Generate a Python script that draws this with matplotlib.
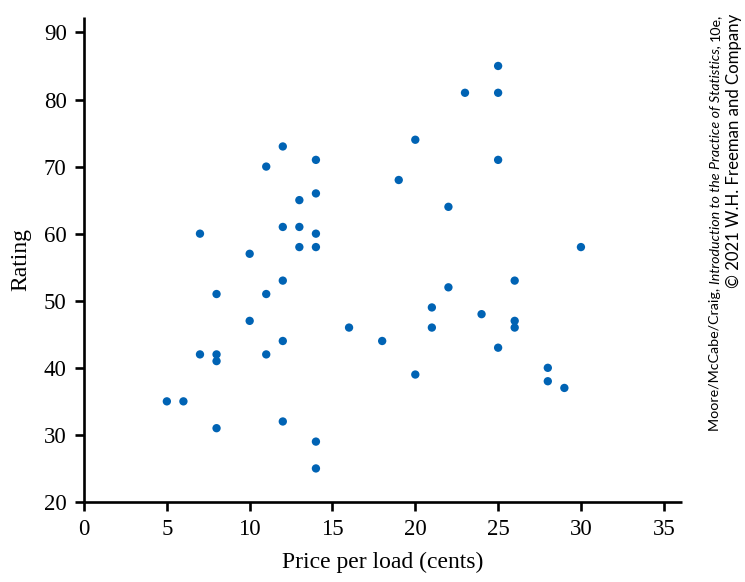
import matplotlib
matplotlib.use("Agg")
import matplotlib.pyplot as plt

# price per load (cents) and rating
price = [5, 6, 7, 7, 8, 8, 8, 8, 10, 10, 11, 11, 11, 12, 12, 12, 12, 12,
         13, 13, 13, 14, 14, 14, 14, 14, 14, 16, 18, 19, 20, 20, 21, 21,
         22, 22, 23, 24, 25, 25, 25, 25, 26, 26, 26, 28, 28, 29, 30]
rating = [35, 35, 60, 42, 51, 42, 41, 31, 57, 47, 70, 51, 42, 73, 61, 53, 44, 32,
          65, 61, 58, 71, 66, 60, 58, 29, 25, 46, 44, 68, 74, 39, 49, 46,
          64, 52, 81, 48, 85, 81, 71, 43, 53, 47, 46, 40, 38, 37, 58]

x_ticks = [0, 5, 10, 15, 20, 25, 30, 35]
y_ticks = [20, 30, 40, 50, 60, 70, 80, 90]

plt.rcParams['font.family'] = ['Liberation Serif', 'DejaVu Serif']
SIDE = ['Lato', 'DejaVu Sans']

fig = plt.figure(figsize=(7.45, 5.82), dpi=100)
ax = fig.add_axes([0.1128, 0.1375, 0.8026, 0.8333])

ax.scatter(price, rating, s=36, color='#0063B4', edgecolors='none', zorder=3)

ax.set_xlim(0, 36.1)
ax.set_ylim(20, 92.3)
ax.set_xticks(x_ticks)
ax.set_yticks(y_ticks)

for side in ['top', 'right']:
    ax.spines[side].set_visible(False)
for side in ['left', 'bottom']:
    ax.spines[side].set_linewidth(1.9)
    ax.spines[side].set_color('black')
    ax.spines[side].set_capstyle('butt')

ax.tick_params(direction='out', length=6.5, width=1.9, color='black',
               labelsize=16.5, pad=6)

ax.set_xlabel("Price per load (cents)", fontsize=17, labelpad=8)
ax.set_ylabel("Rating", fontsize=17, labelpad=9)

# publisher credit along the right edge, built from top to bottom
renderer = fig.canvas.get_renderer()
H = 582.0
pieces = [("10e,", 'normal'),
          ("Introduction to the Practice of Statistics, ", 'italic'),
          ("Moore/McCabe/Craig, ", 'normal')]
top = 14
for txt, style in pieces:
    t = fig.text(715 / 745, 1 - top / H, txt, rotation=90, ha='center',
                 va='top', fontsize=10.3, family=SIDE, style=style)
    bb = t.get_window_extent(renderer)
    top += bb.height
fig.text(734 / 745, 1 - 14 / H, "© 2021 W.H. Freeman and Company",
         rotation=90, ha='center', va='top', fontsize=12.1, family=SIDE)

fig.savefig("out.png", dpi=100)
